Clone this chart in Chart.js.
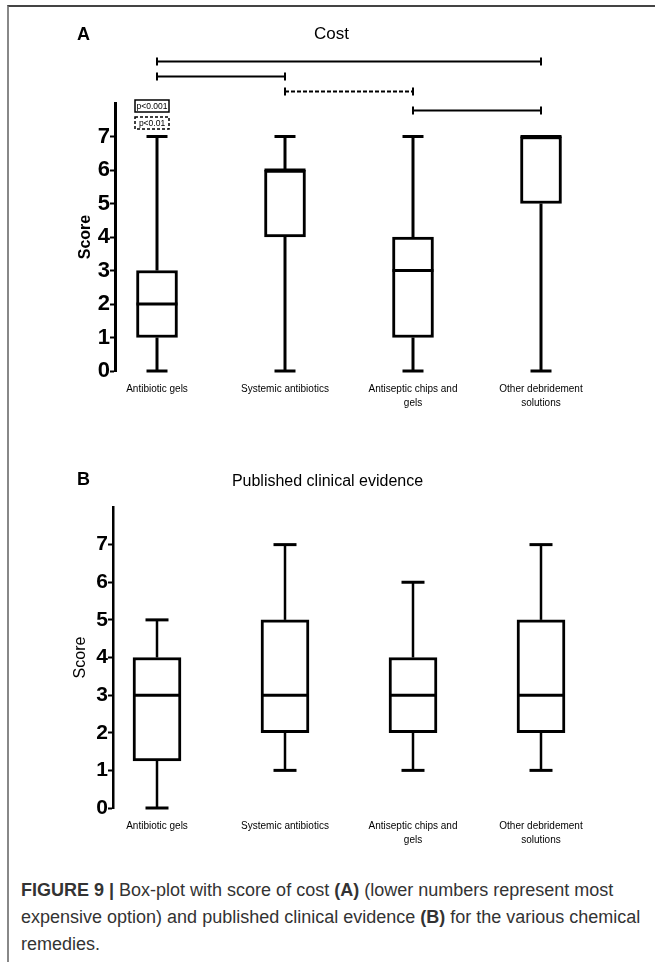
<!DOCTYPE html>
<html>
<head>
<meta charset="utf-8">
<script src="https://cdn.jsdelivr.net/npm/chart.js@4.4.1/dist/chart.umd.min.js"></script>
<style>
  html, body { margin: 0; padding: 0; background: #fff; }
  body { width: 655px; height: 962px; position: relative; overflow: hidden; font-family: 'Liberation Sans', Arial, sans-serif; }
  .frame { position: absolute; left: 7px; top: 5px; right: 0; bottom: 0; border-left: 2px solid #888; border-top: 2px solid #444; }
  canvas { position: absolute; left: 0; }
  .letter { position: absolute; left: 77px; font-weight: bold; font-size: 18px; line-height: 1; }
  .title { position: absolute; left: 0; width: 655px; text-align: center; font-size: 17px; line-height: 1; }
  .caption { position: absolute; left: 21px; top: 877px; font-size: 18px; line-height: 27px; color: #333; white-space: nowrap; }
</style>
</head>
<body>
<div class="frame"></div>
<canvas id="costChart" width="655" height="430" style="top:0"></canvas>
<canvas id="evidenceChart" width="655" height="420" style="top:440px"></canvas>
<div class="letter" style="top:25px">A</div>
<div class="title" style="top:25px; padding-left:4px">Cost</div>
<div class="letter" style="top:470px">B</div>
<div class="title" style="top:473px; font-size:16px">Published clinical evidence</div>
<div class="caption"><b>FIGURE 9 |</b> Box-plot with score of cost <b>(A)</b> (lower numbers represent most<br>expensive option) and published clinical evidence <b>(B)</b> for the various chemical<br>remedies.</div>
<script>
const CATEGORIES = [
  ['Antibiotic gels'],
  ['Systemic antibiotics'],
  ['Antiseptic chips and', 'gels'],
  ['Other debridement', 'solutions'],
];
const Y_TICKS = [0, 1, 2, 3, 4, 5, 6, 7];

// A: cost score (lower = more expensive)
const COST_MIN = [0, 0, 0, 0];
const COST_Q1 = [1, 4, 1, 5];
const COST_MEDIAN = [2, 6, 3, 7];
const COST_Q3 = [3, 6, 4, 7];
const COST_MAX = [7, 7, 7, 7];

// B: published clinical evidence score
const EVIDENCE_MIN = [0, 1, 1, 1];
const EVIDENCE_Q1 = [1.25, 2, 2, 2];
const EVIDENCE_MEDIAN = [3, 3, 3, 3];
const EVIDENCE_Q3 = [4, 5, 4, 5];
const EVIDENCE_MAX = [5, 7, 6, 7];

// significance brackets in A: [from category, to category, p level]
const COST_BRACKETS = [
  [0, 3, 'p<0.001'],
  [0, 1, 'p<0.001'],
  [1, 2, 'p<0.01'],
  [2, 3, 'p<0.001'],
];
const P_LEVELS = ['p<0.001', 'p<0.01'];

const FONT = "'Liberation Sans', Arial, sans-serif";

// whiskers, caps and medians on top of the floating bars
const boxWhiskers = {
  id: 'boxWhiskers',
  afterDatasetsDraw(chart, args, opts) {
    let { ctx, scales: { x, y } } = chart;
    let s = opts.stats;
    ctx.save();
    ctx.strokeStyle = '#000';
    s.min.forEach((mn, i) => {
      let cx = x.getPixelForValue(i);
      let line = (x1, y1, x2, y2, w) => {
        ctx.lineWidth = w;
        ctx.beginPath();
        ctx.moveTo(x1, y1);
        ctx.lineTo(x2, y2);
        ctx.stroke();
      };
      if (s.max[i] > s.q3[i]) {
        line(cx, y.getPixelForValue(s.q3[i]), cx, y.getPixelForValue(s.max[i]), opts.whisker);
      }
      if (mn < s.q1[i]) {
        line(cx, y.getPixelForValue(s.q1[i]), cx, y.getPixelForValue(mn), opts.whisker);
      }
      let hc = opts.cap / 2;
      let hb = opts.box / 2;
      if (s.max[i] > s.q3[i]) line(cx - hc, y.getPixelForValue(s.max[i]), cx + hc, y.getPixelForValue(s.max[i]), 3);
      if (mn < s.q1[i]) line(cx - hc, y.getPixelForValue(mn), cx + hc, y.getPixelForValue(mn), 3);
      line(cx - hb, y.getPixelForValue(s.median[i]), cx + hb, y.getPixelForValue(s.median[i]), 3);
    });
    ctx.restore();
  },
};

// comparison brackets and the p-value key above panel A
const brackets = {
  id: 'brackets',
  afterDraw(chart, args, opts) {
    if (!opts.list) return;
    let { ctx, scales: { x, y } } = chart;
    ctx.save();
    ctx.strokeStyle = '#000';
    ctx.lineWidth = 2;
    opts.list.forEach(([a, b, p], k) => {
      let py = Math.round(y.getPixelForValue(opts.levels[k])) + 0.5;
      let x1 = x.getPixelForValue(a);
      let x2 = x.getPixelForValue(b);
      ctx.setLineDash(p === P_LEVELS[1] ? [4, 2] : []);
      ctx.beginPath();
      ctx.moveTo(x1, py);
      ctx.lineTo(x2, py);
      ctx.stroke();
      ctx.setLineDash([]);
      ctx.beginPath();
      ctx.moveTo(x1, py - 4);
      ctx.lineTo(x1, py + 4);
      ctx.moveTo(x2, py - 4);
      ctx.lineTo(x2, py + 4);
      ctx.stroke();
    });

    let kx = x.getPixelForValue(0) - 22;
    let ky = chart.chartArea.top - 3;
    ctx.font = '8.5px ' + FONT;
    ctx.textAlign = 'center';
    ctx.textBaseline = 'middle';
    ctx.fillStyle = '#000';
    P_LEVELS.forEach((p, k) => {
      let top = ky + k * 17;
      ctx.lineWidth = 1.5;
      ctx.setLineDash(k ? [3, 2] : []);
      ctx.strokeRect(kx, top, 34, 12);
      ctx.setLineDash([]);
      ctx.fillText(p, kx + 17, top + 6.5);
    });
    ctx.restore();
  },
};

function boxChart(canvas, stats, o) {
  return new Chart(canvas, {
    type: 'bar',
    data: {
      datasets: [{
        data: stats.q1.map((q, i) => ({ x: i, y: [q, stats.q3[i]] })),
        backgroundColor: '#fff',
        borderColor: '#000',
        borderWidth: 3,
        borderSkipped: false,
        barThickness: o.box,
      }],
    },
    options: {
      responsive: false,
      animation: false,
      layout: { padding: { top: o.top, right: 35, left: 0, bottom: 0 } },
      plugins: {
        legend: { display: false },
        tooltip: { enabled: false },
        boxWhiskers: { stats, box: o.box, cap: o.cap, whisker: o.whisker },
        brackets: o.brackets || {},
      },
      scales: {
        x: {
          type: 'linear',
          offset: false,
          min: (o.axisX - 157) / 128,
          max: (620 - 157) / 128,
          grid: { display: false, drawTicks: false },
          border: { display: false },
          afterBuildTicks: s => { s.ticks = CATEGORIES.map((_, i) => ({ value: i })); },
          afterFit: s => { s.height = o.xHeight; },
          ticks: {
            callback: v => CATEGORIES[v],
            autoSkip: false,
            maxRotation: 0,
            padding: o.labelPad,
            color: '#000',
            font: { family: FONT, size: 10, lineHeight: 1.4 },
          },
        },
        y: {
          min: 0,
          max: 8,
          afterBuildTicks: s => { s.ticks = Y_TICKS.map(v => ({ value: v })); },
          afterFit: s => { s.width = o.axisX; },
          grid: { drawOnChartArea: false, tickLength: 5, tickWidth: 2, tickColor: '#000' },
          border: { color: '#000', width: o.axisLine },
          ticks: { padding: 0, color: '#000', font: { family: FONT, size: o.tickSize, weight: 'bold' } },
          title: {
            display: true,
            text: 'Score',
            color: '#000',
            font: { family: FONT, size: o.titleSize, weight: o.titleWeight },
            padding: { top: o.titlePad },
          },
        },
      },
    },
    plugins: [boxWhiskers, brackets],
  });
}

boxChart(document.getElementById('costChart'), {
  min: COST_MIN, q1: COST_Q1, median: COST_MEDIAN, q3: COST_Q3, max: COST_MAX,
}, {
  top: 103, xHeight: 59, axisX: 115, axisLine: 3, box: 41, cap: 21, whisker: 3,
  tickSize: 22, titleSize: 16, titleWeight: 'bold', titlePad: 76, labelPad: 11,
  brackets: { list: COST_BRACKETS, levels: [9.25, 8.8, 8.35, 7.8] },
});

boxChart(document.getElementById('evidenceChart'), {
  min: EVIDENCE_MIN, q1: EVIDENCE_Q1, median: EVIDENCE_MEDIAN, q3: EVIDENCE_Q3, max: EVIDENCE_MAX,
}, {
  top: 67, xHeight: 52, axisX: 113, axisLine: 2.5, box: 48, cap: 23, whisker: 2.5,
  tickSize: 21, titleSize: 16, titleWeight: 'normal', titlePad: 71, labelPad: 11,
});
</script>
</body>
</html>
